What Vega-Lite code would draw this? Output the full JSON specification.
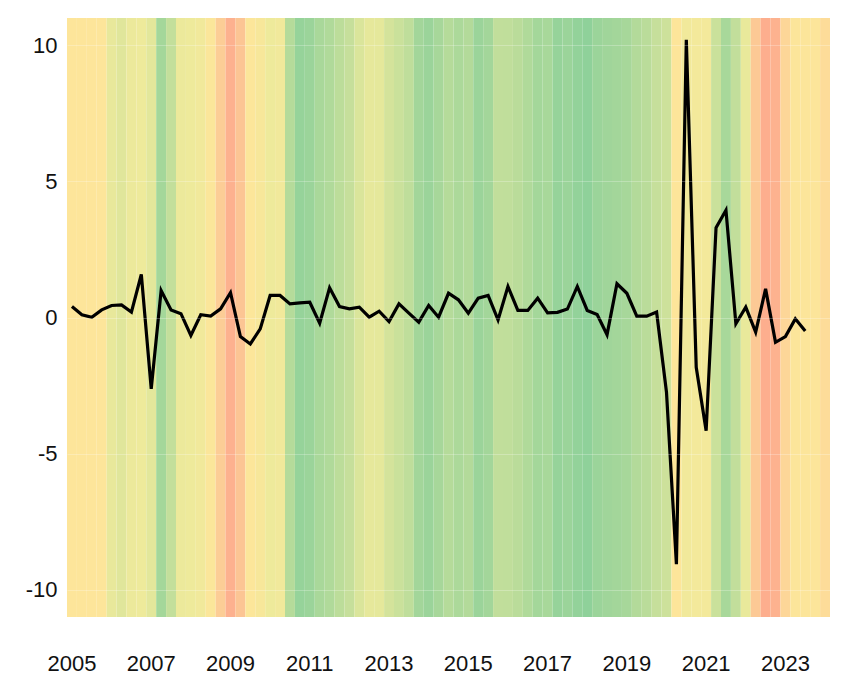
{
  "$schema": "https://vega.github.io/schema/vega-lite/v6.json",
  "background": "white",
  "autosize": {"type": "none"},
  "padding": {"left": 67, "top": 18, "right": 33, "bottom": 72},
  "width": 763,
  "height": 599,
  "config": {
    "view": {"stroke": null},
    "axis": {
      "labelFont": "Liberation Sans",
      "labelFontSize": 22,
      "labelColor": "#111111",
      "ticks": false,
      "domain": false,
      "title": null
    }
  },
  "data": {
    "values": [
      {"q": "2005 Q1", "s": -1, "v": 0.40},
      {"q": "2005 Q2", "s": -1, "v": 0.10},
      {"q": "2005 Q3", "s": -1, "v": 0.01},
      {"q": "2005 Q4", "s": -1, "v": 0.28},
      {"q": "2006 Q1", "s": 0.25, "v": 0.44},
      {"q": "2006 Q2", "s": 0.6, "v": 0.46},
      {"q": "2006 Q3", "s": 0.1, "v": 0.20},
      {"q": "2006 Q4", "s": 0, "v": 1.58},
      {"q": "2007 Q1", "s": 0.45, "v": -2.62},
      {"q": "2007 Q2", "s": 3.1, "v": 0.99},
      {"q": "2007 Q3", "s": 1.8, "v": 0.28},
      {"q": "2007 Q4", "s": 0.1, "v": 0.14},
      {"q": "2008 Q1", "s": 0, "v": -0.66},
      {"q": "2008 Q2", "s": -0.2, "v": 0.10},
      {"q": "2008 Q3", "s": -0.85, "v": 0.05},
      {"q": "2008 Q4", "s": -1.8, "v": 0.32},
      {"q": "2009 Q1", "s": -2.9, "v": 0.91},
      {"q": "2009 Q2", "s": -2.1, "v": -0.70},
      {"q": "2009 Q3", "s": -0.9, "v": -0.97},
      {"q": "2009 Q4", "s": -0.6, "v": -0.42},
      {"q": "2010 Q1", "s": 0, "v": 0.81},
      {"q": "2010 Q2", "s": -0.2, "v": 0.81},
      {"q": "2010 Q3", "s": 2.4, "v": 0.50},
      {"q": "2010 Q4", "s": 3.7, "v": 0.54},
      {"q": "2011 Q1", "s": 3.5, "v": 0.56},
      {"q": "2011 Q2", "s": 2.9, "v": -0.21},
      {"q": "2011 Q3", "s": 2.6, "v": 1.09},
      {"q": "2011 Q4", "s": 2.1, "v": 0.40},
      {"q": "2012 Q1", "s": 1.7, "v": 0.32},
      {"q": "2012 Q2", "s": 0.85, "v": 0.38},
      {"q": "2012 Q3", "s": 0.35, "v": 0.01},
      {"q": "2012 Q4", "s": 0.4, "v": 0.23},
      {"q": "2013 Q1", "s": 1.1, "v": -0.15},
      {"q": "2013 Q2", "s": 1.5, "v": 0.50},
      {"q": "2013 Q3", "s": 2.0, "v": 0.16},
      {"q": "2013 Q4", "s": 3.15, "v": -0.17},
      {"q": "2014 Q1", "s": 3.5, "v": 0.44},
      {"q": "2014 Q2", "s": 3.0, "v": 0.01},
      {"q": "2014 Q3", "s": 2.4, "v": 0.89},
      {"q": "2014 Q4", "s": 2.8, "v": 0.65},
      {"q": "2015 Q1", "s": 2.5, "v": 0.16},
      {"q": "2015 Q2", "s": 3.5, "v": 0.71},
      {"q": "2015 Q3", "s": 3.15, "v": 0.81},
      {"q": "2015 Q4", "s": 1.9, "v": -0.09},
      {"q": "2016 Q1", "s": 1.95, "v": 1.14},
      {"q": "2016 Q2", "s": 2.2, "v": 0.26},
      {"q": "2016 Q3", "s": 2.6, "v": 0.26},
      {"q": "2016 Q4", "s": 3.1, "v": 0.71},
      {"q": "2017 Q1", "s": 2.95, "v": 0.17},
      {"q": "2017 Q2", "s": 3.7, "v": 0.19},
      {"q": "2017 Q3", "s": 3.5, "v": 0.31},
      {"q": "2017 Q4", "s": 3.85, "v": 1.14},
      {"q": "2018 Q1", "s": 4, "v": 0.26},
      {"q": "2018 Q2", "s": 3.5, "v": 0.11},
      {"q": "2018 Q3", "s": 3.3, "v": -0.63},
      {"q": "2018 Q4", "s": 3.15, "v": 1.24},
      {"q": "2019 Q1", "s": 3.0, "v": 0.89},
      {"q": "2019 Q2", "s": 2.5, "v": 0.05},
      {"q": "2019 Q3", "s": 2.2, "v": 0.05},
      {"q": "2019 Q4", "s": 1.7, "v": 0.20},
      {"q": "2020 Q1", "s": 1.4, "v": -2.75},
      {"q": "2020 Q2", "s": -1, "v": -9.06},
      {"q": "2020 Q3", "s": -0.2, "v": 10.2},
      {"q": "2020 Q4", "s": -0.3, "v": -1.83},
      {"q": "2021 Q1", "s": -0.3, "v": -4.16},
      {"q": "2021 Q2", "s": 1.5, "v": 3.30},
      {"q": "2021 Q3", "s": 2.95, "v": 3.94},
      {"q": "2021 Q4", "s": 1.85, "v": -0.23},
      {"q": "2022 Q1", "s": 0.2, "v": 0.38},
      {"q": "2022 Q2", "s": -1.95, "v": -0.54},
      {"q": "2022 Q3", "s": -3, "v": 1.05},
      {"q": "2022 Q4", "s": -2.85, "v": -0.91},
      {"q": "2023 Q1", "s": -1.5, "v": -0.70},
      {"q": "2023 Q2", "s": -0.95, "v": -0.05},
      {"q": "2023 Q3", "s": -0.95, "v": -0.50},
      {"q": "2023 Q4", "s": -0.95, "v": null},
      {"q": "2024 Q1", "s": -1.3, "v": null}
    ]
  },
  "encoding": {
    "x": {
      "field": "q",
      "type": "ordinal",
      "sort": null,
      "scale": {"paddingInner": 0, "paddingOuter": 0},
      "axis": {
        "values": ["2005 Q1", "2007 Q1", "2009 Q1", "2011 Q1", "2013 Q1", "2015 Q1", "2017 Q1", "2019 Q1", "2021 Q1", "2023 Q1"],
        "labelExpr": "slice(datum.value, 0, 4)",
        "labelAngle": 0,
        "labelPadding": 36,
        "grid": false
      }
    }
  },
  "layer": [
    {
      "mark": {"type": "rect"},
      "encoding": {
        "color": {
          "field": "s",
          "type": "quantitative",
          "scale": {
            "domain": [-3, -2, -1, 0, 4],
            "range": ["#fdae8e", "#fcc795", "#fde59a", "#eeea9b", "#8fd19a"],
            "interpolate": "rgb"
          },
          "legend": null
        }
      }
    },
    {
      "mark": {"type": "line", "color": "black", "strokeWidth": 3.2, "strokeJoin": "miter"},
      "encoding": {
        "x": {"field": "q", "type": "ordinal", "sort": null, "bandPosition": 0.5},
        "y": {
          "field": "v",
          "type": "quantitative",
          "scale": {"domain": [-11, 11], "nice": false, "zero": false},
          "axis": {
            "values": [-10, -5, 0, 5, 10],
            "labelExpr": "'' + datum.value",
            "labelPadding": 10,
            "grid": true,
            "gridColor": "white",
            "gridOpacity": 0.25,
            "zindex": 1
          }
        }
      }
    }
  ]
}
